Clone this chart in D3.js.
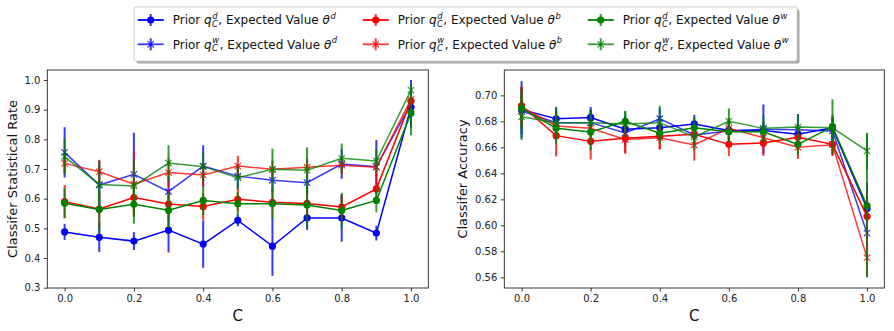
<!DOCTYPE html>
<html>
<head>
<meta charset="utf-8">
<script src="https://d3js.org/d3.v7.min.js"></script>
<style>
  html, body { margin: 0; padding: 0; background: #fff; }
  svg text { font-family: "DejaVu Sans", sans-serif; white-space: pre; }
</style>
</head>
<body>
<svg id="chart" width="894" height="331"></svg>
<script>
// ---------------- data ----------------
const cValues = [0.0, 0.1, 0.2, 0.3, 0.4, 0.5, 0.6, 0.7, 0.8, 0.9, 1.0];
const xTicks = [0.0, 0.2, 0.4, 0.6, 0.8, 1.0];
const statTicks = [0.3, 0.4, 0.5, 0.6, 0.7, 0.8, 0.9, 1.0];
const accTicks = [0.56, 0.58, 0.60, 0.62, 0.64, 0.66, 0.68, 0.70];

// Classifier statistical rate (left)
const statBlueDot    = [0.488, 0.470, 0.457, 0.494, 0.447, 0.527, 0.440, 0.535, 0.535, 0.484, 0.908];
const statBlueDotErr = [0.027, 0.050, 0.030, 0.075, 0.080, 0.020, 0.100, 0.040, 0.080, 0.025, 0.020];
const statBlueX      = [0.756, 0.646, 0.682, 0.624, 0.710, 0.676, 0.662, 0.654, 0.717, 0.708, 0.920];
const statBlueXErr   = [0.085, 0.080, 0.140, 0.050, 0.070, 0.040, 0.040, 0.040, 0.050, 0.090, 0.080];
const statRedDot     = [0.590, 0.565, 0.604, 0.582, 0.574, 0.598, 0.588, 0.584, 0.572, 0.633, 0.929];
const statRedDotErr  = [0.056, 0.060, 0.050, 0.050, 0.046, 0.040, 0.045, 0.040, 0.040, 0.050, 0.020];
const statRedX       = [0.719, 0.691, 0.649, 0.688, 0.680, 0.710, 0.699, 0.706, 0.713, 0.706, 0.935];
const statRedXErr    = [0.030, 0.040, 0.110, 0.050, 0.040, 0.035, 0.030, 0.030, 0.030, 0.030, 0.020];
const statGreenDot   = [0.585, 0.564, 0.581, 0.561, 0.594, 0.583, 0.583, 0.579, 0.560, 0.594, 0.889];
const statGreenDotErr= [0.050, 0.080, 0.065, 0.060, 0.050, 0.040, 0.050, 0.080, 0.060, 0.040, 0.075];
const statGreenX     = [0.742, 0.648, 0.643, 0.720, 0.708, 0.671, 0.699, 0.696, 0.736, 0.727, 0.966];
const statGreenXErr  = [0.060, 0.080, 0.090, 0.060, 0.050, 0.040, 0.070, 0.077, 0.050, 0.040, 0.020];

// Classifier accuracy (right)
const accBlueDot     = [0.689, 0.682, 0.683, 0.674, 0.675, 0.678, 0.673, 0.673, 0.670, 0.675, 0.613];
const accBlueDotErr  = [0.022, 0.009, 0.008, 0.010, 0.008, 0.007, 0.008, 0.006, 0.008, 0.008, 0.020];
const accBlueX       = [0.688, 0.679, 0.679, 0.671, 0.682, 0.6695, 0.6726, 0.674, 0.6736, 0.6726, 0.594];
const accBlueXErr    = [0.018, 0.010, 0.010, 0.010, 0.008, 0.008, 0.008, 0.019, 0.012, 0.010, 0.020];
const accRedDot      = [0.692, 0.669, 0.6646, 0.667, 0.6685, 0.670, 0.6623, 0.6633, 0.6677, 0.6623, 0.6069];
const accRedDotErr   = [0.015, 0.016, 0.014, 0.012, 0.010, 0.008, 0.009, 0.010, 0.008, 0.009, 0.020];
const accRedX        = [0.691, 0.6764, 0.6746, 0.666, 0.6674, 0.6618, 0.6746, 0.6674, 0.660, 0.662, 0.5751];
const accRedXErr     = [0.015, 0.010, 0.010, 0.010, 0.009, 0.012, 0.008, 0.008, 0.009, 0.008, 0.015];
const accGreenDot    = [0.690, 0.6746, 0.6718, 0.680, 0.6708, 0.675, 0.672, 0.672, 0.6623, 0.6759, 0.6151];
const accGreenDotErr = [0.016, 0.012, 0.014, 0.008, 0.008, 0.008, 0.008, 0.008, 0.008, 0.021, 0.055];
const accGreenX      = [0.6836, 0.679, 0.679, 0.678, 0.679, 0.668, 0.680, 0.6746, 0.6756, 0.675, 0.6572];
const accGreenXErr   = [0.018, 0.012, 0.010, 0.010, 0.013, 0.010, 0.010, 0.010, 0.010, 0.010, 0.014];

// series metadata (draw order = legend order, column-major)
const seriesColors  = ["#0000ff", "#0000ff", "#ff0000", "#ff0000", "#008000", "#008000"];
const seriesMarkers = ["o", "x", "o", "x", "o", "x"];
const seriesPrior   = ["d", "w", "d", "w", "d", "w"];
const seriesTheta   = ["d", "d", "b", "b", "w", "w"];
const statSeries = [[statBlueDot, statBlueDotErr], [statBlueX, statBlueXErr], [statRedDot, statRedDotErr],
                    [statRedX, statRedXErr], [statGreenDot, statGreenDotErr], [statGreenX, statGreenXErr]];
const accSeries  = [[accBlueDot, accBlueDotErr], [accBlueX, accBlueXErr], [accRedDot, accRedDotErr],
                    [accRedX, accRedXErr], [accGreenDot, accGreenDotErr], [accGreenX, accGreenXErr]];

// ---------------- drawing ----------------
const svg = d3.select("#chart");
const X_OPACITY = 0.78, BAR_OPACITY = 0.78;

function drawMarker(g, type, cx, cy, color, opacity) {
  if (type === "o") {
    g.append("circle").attr("cx", cx).attr("cy", cy).attr("r", 3.6)
      .attr("fill", color).attr("opacity", opacity);
  } else {
    const s = 3.2;
    g.append("path")
      .attr("d", `M${cx - s},${cy - s}L${cx + s},${cy + s}M${cx - s},${cy + s}L${cx + s},${cy - s}`)
      .attr("stroke", color).attr("stroke-width", 1.2).attr("fill", "none").attr("opacity", opacity);
  }
}

function panel(opts) {
  const x = d3.scaleLinear().domain([-0.05, 1.05]).range([opts.left, opts.right]);
  const y = d3.scaleLinear().domain(opts.yDomain).range([opts.bottom, opts.top]);
  const g = svg.append("g");

  const xa = g.append("g").attr("transform", `translate(0,${opts.bottom})`)
    .call(d3.axisBottom(x).tickValues(xTicks).tickFormat(d3.format(".1f")).tickSize(3.5).tickPadding(3.5));
  const ya = g.append("g").attr("transform", `translate(${opts.left},0)`)
    .call(d3.axisLeft(y).tickValues(opts.yTicks).tickFormat(d3.format(opts.yFormat)).tickSize(3.5).tickPadding(3.5));
  [xa, ya].forEach(a => {
    a.select(".domain").remove();
    a.selectAll(".tick line").attr("stroke", "#222").attr("stroke-width", 0.9);
    a.selectAll(".tick text").attr("fill", "#222").style("font-size", "10px")
      .style("font-family", "'DejaVu Sans', sans-serif");
  });

  const plot = g.append("g");
  opts.series.forEach((s, i) => {
    const vals = s[0], errs = s[1];
    const color = seriesColors[i];
    const op = seriesMarkers[i] === "x" ? X_OPACITY : 1;
    const sg = plot.append("g");
    cValues.forEach((c, j) => {
      sg.append("line")
        .attr("x1", x(c)).attr("x2", x(c))
        .attr("y1", y(vals[j] - errs[j])).attr("y2", y(vals[j] + errs[j]))
        .attr("stroke", color).attr("stroke-width", 2).attr("opacity", BAR_OPACITY);
    });
    const line = d3.line().x((d, j) => x(cValues[j])).y(d => y(d));
    sg.append("path").datum(vals).attr("d", line)
      .attr("fill", "none").attr("stroke", color).attr("stroke-width", 1.5).attr("opacity", op);
    vals.forEach((v, j) => drawMarker(sg, seriesMarkers[i], x(cValues[j]), y(v), color, op));
  });

  g.append("rect").attr("x", opts.left).attr("y", opts.top)
    .attr("width", opts.right - opts.left).attr("height", opts.bottom - opts.top)
    .attr("fill", "none").attr("stroke", "#222").attr("stroke-width", 0.9);

  g.append("text").attr("x", (opts.left + opts.right) / 2).attr("y", 321)
    .attr("text-anchor", "middle").style("font-size", "15px").attr("fill", "#111").text("C");
  g.append("text").attr("transform", `translate(${opts.labelX},${(opts.top + opts.bottom) / 2}) rotate(-90)`)
    .attr("text-anchor", "middle").attr("dy", "0.35em").style("font-size", "13px").attr("fill", "#111")
    .text(opts.yLabel);
}

panel({ left: 47.3, right: 428.3, top: 70, bottom: 288, yDomain: [0.299, 1.0337],
        yTicks: statTicks, yFormat: ".1f", series: statSeries, labelX: 12.5,
        yLabel: "Classifer Statistical Rate" });
panel({ left: 504.3, right: 884.3, top: 70, bottom: 288, yDomain: [0.5518, 0.7195],
        yTicks: accTicks, yFormat: ".2f", series: accSeries, labelX: 462,
        yLabel: "Classifer Accuracy" });

// ---------------- legend ----------------
const lg = svg.append("g");
const box = { x: 134, y: 7, w: 663, h: 54 };
lg.append("rect").attr("x", box.x + 2.5).attr("y", box.y + 2.5).attr("width", box.w).attr("height", box.h)
  .attr("rx", 2).attr("fill", "#000").attr("opacity", 0.35);
lg.append("rect").attr("x", box.x).attr("y", box.y).attr("width", box.w).attr("height", box.h)
  .attr("rx", 2).attr("fill", "#fff").attr("stroke", "#cfcfcf").attr("stroke-width", 1);

// measure a string in a given size/style
function measure(txt, size, italic) {
  const t = svg.append("text").style("font-size", size + "px").text(txt);
  if (italic) t.style("font-style", "italic");
  const w = t.node().getComputedTextLength();
  t.remove();
  return w;
}

const colX = [150.7, 375.7, 600.7];
const rowY = [20, 44.3];
seriesColors.forEach((color, i) => {
  const col = Math.floor(i / 2), row = i % 2;
  const mx = colX[col], my = rowY[row];
  const op = seriesMarkers[i] === "x" ? X_OPACITY : 1;
  const hg = lg.append("g");
  hg.append("line").attr("x1", mx - 13).attr("x2", mx + 13).attr("y1", my).attr("y2", my)
    .attr("stroke", color).attr("stroke-width", 1.8).attr("opacity", op);
  hg.append("line").attr("x1", mx).attr("x2", mx).attr("y1", my - 6).attr("y2", my + 6)
    .attr("stroke", color).attr("stroke-width", 2).attr("opacity", BAR_OPACITY);
  drawMarker(hg, seriesMarkers[i], mx, my, color, op);

  const base = my + 4.3;
  const supW = measure(seriesPrior[i], 8.4, true);
  const subW = measure("C", 8.4, true);
  const t = hg.append("text").attr("x", mx + 22).attr("y", base).attr("fill", "#111")
    .style("font-size", "12px");
  t.append("tspan").text("Prior ");
  t.append("tspan").style("font-style", "italic").text("q");
  t.append("tspan").attr("dx", 0.6).attr("dy", -5.2).style("font-size", "8.4px").style("font-style", "italic")
    .text(seriesPrior[i]);
  t.append("tspan").attr("dx", -supW - 0.4).attr("dy", 7.6).style("font-size", "8.4px").style("font-style", "italic")
    .text("C");
  const extra = Math.max(supW + 0.6, subW + 0.2) - (subW + 0.2) + 0.5;
  t.append("tspan").attr("dx", extra).attr("dy", -2.4).text(", Expected Value ");
  t.append("tspan").style("font-style", "italic").text("\u03b8");
  t.append("tspan").attr("dx", 0.6).attr("dy", -5.2).style("font-size", "8.4px").style("font-style", "italic")
    .text(seriesTheta[i]);
});
</script>
</body>
</html>
